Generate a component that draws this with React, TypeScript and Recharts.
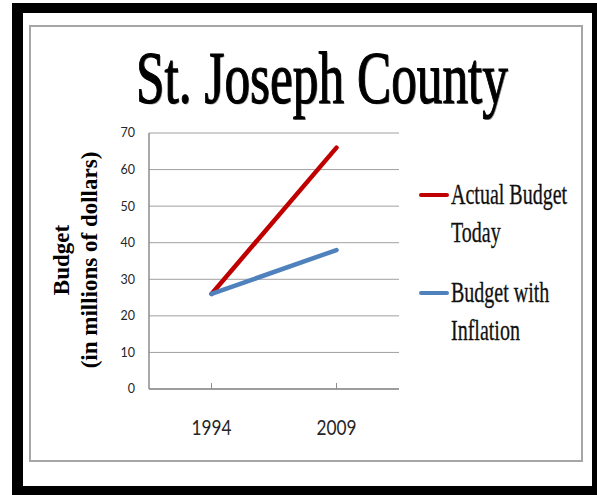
import React from 'react';
import { LineChart, Line, XAxis, YAxis, CartesianGrid, Legend } from 'recharts';

const title = 'St. Joseph County';
const years = ['1994', '2009'];
const actualBudgetToday = [26, 66];
const budgetWithInflation = [26, 38];
const yTicks = [0, 10, 20, 30, 40, 50, 60, 70];
const yLabelLines = ['Budget', '(in millions of dollars)'];
const seriesNames = ['Actual Budget Today', 'Budget with Inflation'];
const seriesColors = ['#C00000', '#4F81BD'];

const data = years.map((y, i) => ({
  year: y,
  actual: actualBudgetToday[i],
  inflation: budgetWithInflation[i],
}));

const XTick = (props: any) => {
  const { x, y, payload } = props;
  return (
    <text
      x={x}
      y={y}
      dy={15}
      textAnchor="middle"
      fontFamily="Lato, 'Open Sans', sans-serif"
      fontSize={21}
      fill="#262626"
      textLength={40}
      lengthAdjust="spacingAndGlyphs"
    >
      {payload.value}
    </text>
  );
};

const YLabel = (props: any) => {
  const cy = 260;
  return (
    <g>
      <text
        transform={`translate(69,${cy}) rotate(-90)`}
        textAnchor="middle"
        fontFamily="'Liberation Serif', serif"
        fontWeight="bold"
        fontSize={23}
        fill="#000"
      >
        {yLabelLines[0]}
      </text>
      <text
        transform={`translate(97,${cy}) rotate(-90)`}
        textAnchor="middle"
        fontFamily="'Liberation Serif', serif"
        fontWeight="bold"
        fontSize={23}
        fill="#000"
      >
        {yLabelLines[1]}
      </text>
    </g>
  );
};

const LegendContent = (props: any) => {
  const { payload } = props;
  const tops = [0, 98];
  return (
    <div style={{ position: 'relative', width: 170, height: 180 }}>
      {(payload || []).map((entry: any, i: number) => (
        <div key={i} style={{ position: 'absolute', left: 0, top: tops[i] }}>
          <div
            style={{
              position: 'absolute',
              left: 0,
              top: 12,
              width: 30,
              height: 4,
              borderRadius: 2,
              background: entry.color,
            }}
          />
          <div
            style={{
              position: 'absolute',
              left: 32,
              top: -6,
              width: 180,
              fontFamily: "'Liberation Serif', serif",
              fontSize: 29,
              lineHeight: '38px',
              color: '#111',
              transform: 'scaleX(0.69)',
              transformOrigin: 'left top',
              whiteSpace: 'normal',
              WebkitTextStroke: '0.3px #111',
            }}
          >
            {entry.value}
          </div>
        </div>
      ))}
    </div>
  );
};

export default function App() {
  return (
    <div
      style={{
        position: 'absolute',
        left: 0,
        top: 0,
        width: 597,
        height: 495,
        background: '#fff',
        overflow: 'hidden',
      }}
    >
      <div
        style={{
          position: 'absolute',
          left: 12,
          top: 3,
          width: 590,
          height: 492,
          boxSizing: 'border-box',
          borderLeft: '11px solid #000',
          borderTop: '10px solid #000',
          borderRight: '10px solid #000',
          borderBottom: '9px solid #000',
        }}
      />
      <div
        style={{
          position: 'absolute',
          left: 29,
          top: 25,
          width: 554,
          height: 437,
          boxSizing: 'border-box',
          border: '2px solid #a6a6a6',
        }}
      />
      <svg
        width={597}
        height={130}
        style={{ position: 'absolute', left: 0, top: 0 }}
      >
        <text
          x={323}
          y={104}
          textAnchor="middle"
          fontFamily="'Liberation Serif', serif"
          fontSize={75}
          fill="#9a9a9a"
          textLength={372}
          lengthAdjust="spacingAndGlyphs"
        >
          {title}
        </text>
        <text
          x={322}
          y={103}
          textAnchor="middle"
          fontFamily="'Liberation Serif', serif"
          fontSize={75}
          fill="#000"
          stroke="#000"
          strokeWidth={1.2}
          textLength={372}
          lengthAdjust="spacingAndGlyphs"
        >
          {title}
        </text>
      </svg>
      <div style={{ position: 'absolute', left: 0, top: 0 }}>
        <LineChart
          width={597}
          height={495}
          data={data}
          margin={{ top: 133, right: 198, bottom: 0, left: 0 }}
        >
          <CartesianGrid vertical={false} stroke="#a0a0a0" strokeWidth={1} />
          <XAxis
            dataKey="year"
            scale="band"
            height={106}
            axisLine={{ stroke: '#8c8c8c', strokeWidth: 1.5 }}
            tickLine={{ stroke: '#8c8c8c', strokeWidth: 1 }}
            tickSize={-6}
            tickMargin={37}
            tick={<XTick />}
            interval={0}
          />
          <YAxis
            width={149}
            domain={[0, 70]}
            ticks={yTicks}
            interval={0}
            axisLine={{ stroke: '#8c8c8c', strokeWidth: 1.5 }}
            tickLine={false}
            tickSize={0}
            tickMargin={14}
            tick={{ fontFamily: "Lato, 'Open Sans', sans-serif", fontSize: 12.5, fill: '#262626' }}
            label={<YLabel />}
          />
          <Legend
            layout="vertical"
            verticalAlign="middle"
            align="center"
            content={<LegendContent />}
            wrapperStyle={{ position: 'absolute', left: 419, top: 181, width: 170 }}
          />
          <Line
            name={seriesNames[0]}
            type="linear"
            dataKey="actual"
            stroke={seriesColors[0]}
            strokeWidth={4.5}
            strokeLinecap="round"
            dot={false}
            activeDot={false}
            isAnimationActive={false}
          />
          <Line
            name={seriesNames[1]}
            type="linear"
            dataKey="inflation"
            stroke={seriesColors[1]}
            strokeWidth={4.5}
            strokeLinecap="round"
            dot={false}
            activeDot={false}
            isAnimationActive={false}
          />
        </LineChart>
      </div>
    </div>
  );
}
